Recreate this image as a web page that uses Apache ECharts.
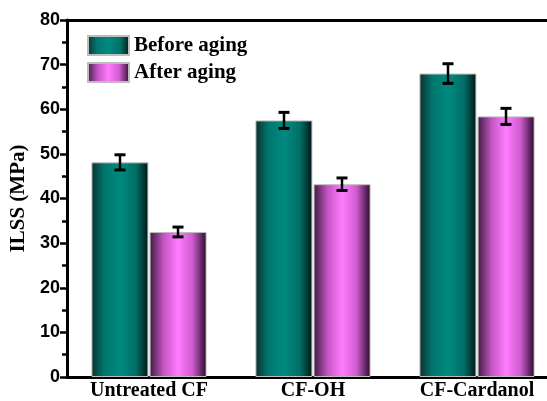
<!DOCTYPE html>
<html>
<head>
<meta charset="utf-8">
<script src="https://cdn.jsdelivr.net/npm/echarts@6/dist/echarts.min.js"></script>
<style>
html,body{margin:0;padding:0;background:#fff;overflow:hidden;}
#wrap{width:547px;height:401px;overflow:hidden;}
#chart{width:559px;height:401px;}
</style>
</head>
<body>
<div id="wrap"><div id="chart"></div></div>
<script>
var categories = ['Untreated CF', 'CF-OH', 'CF-Cardanol'];
var beforeAging = [48.1, 57.5, 68.0];
var afterAging = [32.5, 43.2, 58.4];
var beforeErr = [1.7, 1.8, 2.2];
var afterErr = [1.1, 1.4, 1.8];
var yTicks = [0, 10, 20, 30, 40, 50, 60, 70, 80];

var chart = echarts.init(document.getElementById('chart'));

function grad(stops) {
  return new echarts.graphic.LinearGradient(0, 0, 1, 0, stops);
}
var tealGrad = grad([
  {offset: 0, color: '#0b2f2c'},
  {offset: 0.22, color: '#00766d'},
  {offset: 0.5, color: '#008a80'},
  {offset: 0.78, color: '#006f67'},
  {offset: 1, color: '#001513'}
]);
var pinkGrad = grad([
  {offset: 0, color: '#3e1a3e'},
  {offset: 0.25, color: '#c555c5'},
  {offset: 0.5, color: '#ff7cff'},
  {offset: 0.75, color: '#d05cd0'},
  {offset: 1, color: '#2a0a2a'}
]);

var BAR_W = 57;
var HALF = 29;

function errRender(values, errs, dx) {
  return function (params, api) {
    var i = api.value(0);
    var c = api.coord([i, values[i]]);
    var hi = api.coord([i, values[i] + errs[i]]);
    var lo = api.coord([i, values[i] - errs[i]]);
    var x = c[0] + dx;
    var cap = 5.5;
    var st = {stroke: '#000', lineWidth: 2.5};
    return {
      type: 'group',
      children: [
        {type: 'line', shape: {x1: x, y1: hi[1], x2: x, y2: lo[1]}, style: st},
        {type: 'line', shape: {x1: x - cap, y1: hi[1], x2: x + cap, y2: hi[1]}, style: {stroke: '#000', lineWidth: 3}},
        {type: 'line', shape: {x1: x - cap, y1: lo[1], x2: x + cap, y2: lo[1]}, style: {stroke: '#000', lineWidth: 3}}
      ]
    };
  };
}

var option = {
  backgroundColor: '#fff',
  animation: false,
  grid: {left: 67, top: 20, right: 0, bottom: 21, containLabel: false},
  legend: {
    orient: 'vertical',
    left: 82,
    top: 30,
    icon: 'rect',
    itemWidth: 41,
    itemHeight: 19,
    itemGap: 6,
    textStyle: {fontFamily: 'Liberation Serif', fontWeight: 'bold', fontSize: 21, color: '#000'},
    data: ['Before aging', 'After aging']
  },
  xAxis: [{
    type: 'category',
    data: categories,
    axisLine: {lineStyle: {color: '#000', width: 3}},
    axisTick: {show: false},
    axisLabel: {fontFamily: 'Liberation Serif', fontWeight: 'bold', fontSize: 20, color: '#000', margin: 4}
  }, {
    type: 'category',
    position: 'top',
    data: categories,
    axisLine: {show: true, lineStyle: {color: '#000', width: 3}},
    axisTick: {show: false},
    axisLabel: {show: false}
  }],
  yAxis: {
    type: 'value',
    min: yTicks[0],
    max: yTicks[yTicks.length - 1],
    interval: 10,
    name: 'ILSS (MPa)',
    nameLocation: 'middle',
    nameGap: 18,
    nameTextStyle: {fontFamily: 'Liberation Serif', fontWeight: 'bold', fontSize: 21, color: '#000'},
    axisLine: {show: true, lineStyle: {color: '#000', width: 3}},
    axisTick: {show: true, inside: false, length: 7, lineStyle: {color: '#000', width: 2.5}},
    minorTick: {show: true, splitNumber: 2, length: 5, lineStyle: {color: '#000', width: 2.5}},
    splitLine: {show: false},
    axisLabel: {fontFamily: 'Liberation Sans', fontWeight: 'bold', fontSize: 18, color: '#000', margin: 7}
  },
  series: [{
    name: 'Before aging',
    type: 'bar',
    data: beforeAging,
    barWidth: BAR_W,
    barGap: '2%',
    itemStyle: {color: tealGrad, borderColor: '#bdbdbd', borderWidth: 1}
  }, {
    name: 'After aging',
    type: 'bar',
    data: afterAging,
    barWidth: BAR_W,
    barGap: '2%',
    itemStyle: {color: pinkGrad, borderColor: '#bdbdbd', borderWidth: 1}
  }, {
    type: 'custom',
    data: categories.map(function (c, i) { return [i]; }),
    renderItem: errRender(beforeAging, beforeErr, -HALF),
    z: 10,
    silent: true
  }, {
    type: 'custom',
    data: categories.map(function (c, i) { return [i]; }),
    renderItem: errRender(afterAging, afterErr, HALF),
    z: 10,
    silent: true
  }]
};
chart.setOption(option);
</script>
</body>
</html>
